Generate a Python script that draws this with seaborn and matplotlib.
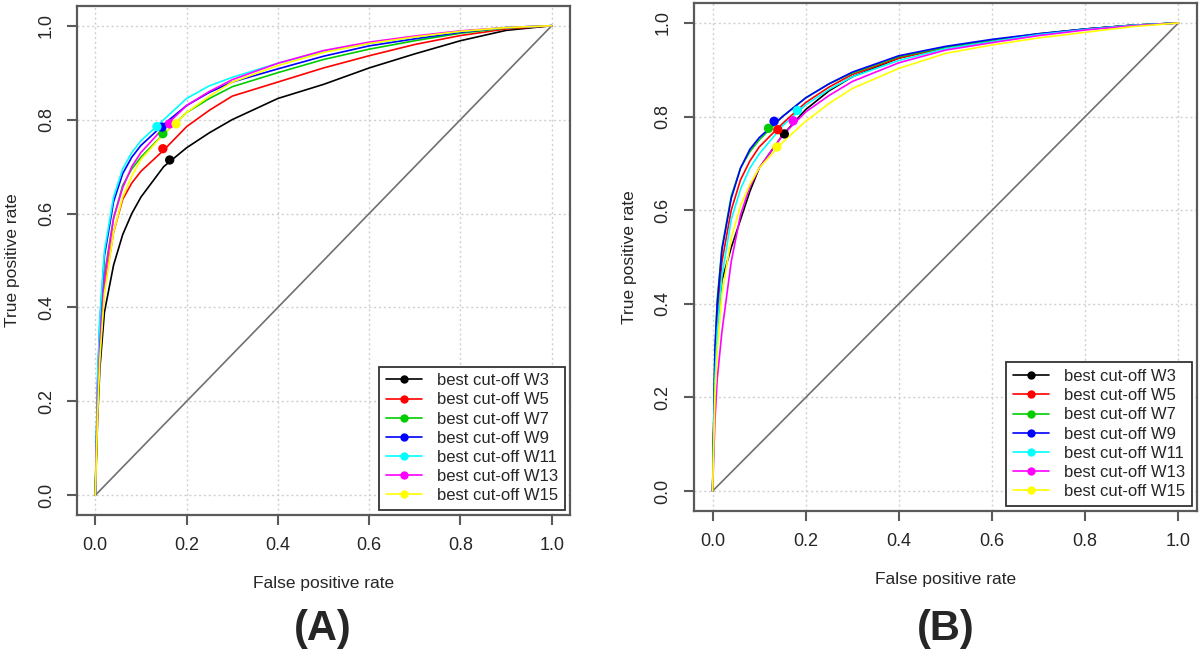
import matplotlib
matplotlib.use("Agg")
import matplotlib.pyplot as plt
from matplotlib.lines import Line2D
import seaborn as sns
import pandas as pd

# ---- data ----
windows = ["W3", "W5", "W7", "W9", "W11", "W13", "W15"]
colors = ["#000000", "#FF0000", "#00CC00", "#0000FF", "#00FFFF", "#FF00FF", "#FFFF00"]

fpr_grid = [0, 0.005, 0.01, 0.02, 0.04, 0.06, 0.08, 0.1, 0.15, 0.2, 0.25,
            0.3, 0.4, 0.5, 0.6, 0.7, 0.8, 0.9, 1.0]

# panel (A)
tpr_a_w3 = [0, 0.16, 0.27, 0.39, 0.49, 0.555, 0.60, 0.635, 0.70, 0.74, 0.772, 0.80, 0.845, 0.875, 0.91, 0.94, 0.968, 0.99, 1.0]
tpr_a_w5 = [0, 0.20, 0.32, 0.44, 0.56, 0.63, 0.665, 0.69, 0.735, 0.785, 0.82, 0.85, 0.88, 0.91, 0.936, 0.96, 0.979, 0.993, 1.0]
tpr_a_w7 = [0, 0.22, 0.34, 0.47, 0.59, 0.66, 0.695, 0.72, 0.77, 0.815, 0.845, 0.87, 0.90, 0.928, 0.95, 0.968, 0.984, 0.995, 1.0]
tpr_a_w9 = [0, 0.24, 0.37, 0.51, 0.625, 0.685, 0.72, 0.745, 0.79, 0.83, 0.858, 0.88, 0.908, 0.935, 0.957, 0.972, 0.986, 0.996, 1.0]
tpr_a_w11 = [0, 0.25, 0.38, 0.52, 0.635, 0.695, 0.73, 0.755, 0.80, 0.845, 0.872, 0.89, 0.92, 0.945, 0.962, 0.976, 0.988, 0.996, 1.0]
tpr_a_w13 = [0, 0.20, 0.32, 0.46, 0.59, 0.655, 0.70, 0.73, 0.783, 0.83, 0.86, 0.885, 0.92, 0.947, 0.965, 0.978, 0.989, 0.996, 1.0]
tpr_a_w15 = [0, 0.17, 0.29, 0.43, 0.56, 0.635, 0.68, 0.715, 0.77, 0.815, 0.85, 0.88, 0.915, 0.943, 0.962, 0.976, 0.988, 0.996, 1.0]
best_a_fpr = [0.163, 0.148, 0.148, 0.146, 0.135, 0.163, 0.177]
best_a_tpr = [0.714, 0.738, 0.770, 0.784, 0.785, 0.791, 0.791]

# panel (B)
tpr_b_w3 = [0, 0.25, 0.35, 0.45, 0.52, 0.58, 0.64, 0.69, 0.76, 0.815, 0.855, 0.885, 0.925, 0.948, 0.963, 0.976, 0.987, 0.995, 1.0]
tpr_b_w5 = [0, 0.28, 0.38, 0.49, 0.60, 0.665, 0.705, 0.735, 0.785, 0.83, 0.863, 0.89, 0.925, 0.947, 0.962, 0.976, 0.987, 0.995, 1.0]
tpr_b_w7 = [0, 0.30, 0.41, 0.52, 0.63, 0.69, 0.725, 0.75, 0.80, 0.84, 0.87, 0.893, 0.928, 0.948, 0.963, 0.977, 0.987, 0.995, 1.0]
tpr_b_w9 = [0, 0.30, 0.40, 0.515, 0.625, 0.69, 0.73, 0.755, 0.80, 0.84, 0.87, 0.895, 0.93, 0.95, 0.965, 0.977, 0.987, 0.995, 1.0]
tpr_b_w11 = [0, 0.24, 0.34, 0.46, 0.58, 0.645, 0.69, 0.72, 0.78, 0.825, 0.858, 0.885, 0.92, 0.945, 0.96, 0.975, 0.986, 0.995, 1.0]
tpr_b_w13 = [0, 0.15, 0.24, 0.34, 0.49, 0.59, 0.65, 0.69, 0.76, 0.81, 0.845, 0.875, 0.915, 0.942, 0.958, 0.973, 0.985, 0.994, 1.0]
tpr_b_w15 = [0, 0.20, 0.30, 0.42, 0.54, 0.61, 0.655, 0.69, 0.745, 0.79, 0.828, 0.86, 0.903, 0.935, 0.953, 0.968, 0.98, 0.992, 1.0]
best_b_fpr = [0.154, 0.140, 0.120, 0.132, 0.182, 0.173, 0.138]
best_b_tpr = [0.763, 0.772, 0.775, 0.790, 0.813, 0.791, 0.735]

ticks = [0.0, 0.2, 0.4, 0.6, 0.8, 1.0]
tick_labels = ["0.0", "0.2", "0.4", "0.6", "0.8", "1.0"]

sns.set_theme(style="white")
plt.rcParams["font.family"] = ["Liberation Sans", "DejaVu Sans"]

AXIS_GREY = "#5a5a5a"


def long_frame(curves):
    rows = []
    for w, tpr in zip(windows, curves):
        for f, t in zip(fpr_grid, tpr):
            rows.append({"window": w, "fpr": f, "tpr": t})
    return pd.DataFrame(rows)


def draw_panel(ax, curves, best_fpr, best_tpr):
    palette = dict(zip(windows, colors))
    # dotted R-style grid
    for v in ticks:
        ax.axvline(v, color="#d0d0d0", lw=1, ls=(0, (1.5, 2)), zorder=0)
        ax.axhline(v, color="#d0d0d0", lw=1, ls=(0, (1.5, 2)), zorder=0)
    ax.plot([0, 1], [0, 1], color="#707070", lw=1.2, zorder=1)

    df = long_frame(curves)
    sns.lineplot(data=df, x="fpr", y="tpr", hue="window", palette=palette,
                 estimator=None, sort=False, lw=1.2, legend=False, ax=ax, zorder=2)
    best = pd.DataFrame({"window": windows, "fpr": best_fpr, "tpr": best_tpr})
    sns.scatterplot(data=best, x="fpr", y="tpr", hue="window", palette=palette,
                    s=45, edgecolor="none", legend=False, ax=ax, zorder=3)

    ax.set_xlim(-0.04, 1.04)
    ax.set_ylim(-0.042, 1.042)
    ax.set_xticks(ticks)
    ax.set_yticks(ticks)
    ax.set_xticklabels(tick_labels)
    ax.set_yticklabels(tick_labels, rotation=90, va="center")
    ax.tick_params(axis="both", direction="out", length=7, width=1.5,
                   color=AXIS_GREY, labelsize=13, pad=9,
                   bottom=True, left=True)
    for sp in ax.spines.values():
        sp.set_color(AXIS_GREY)
        sp.set_linewidth(1.6)
    ax.set_xlabel("False positive rate", fontsize=12.5, labelpad=16)
    ax.set_ylabel("True positive rate", fontsize=12.5, labelpad=13)

    handles = [Line2D([], [], color=c, lw=1.2, marker="o", markersize=5)
               for c in colors]
    labels = ["best cut-off " + w for w in windows]
    leg = ax.legend(handles, labels, loc="lower right", fontsize=12,
                    frameon=True, fancybox=False, framealpha=1,
                    edgecolor="#333333", borderaxespad=0.3,
                    labelspacing=0.25, handlelength=2.2, handletextpad=0.9,
                    borderpad=0.4)
    leg.get_frame().set_linewidth(1.3)


fig = plt.figure(figsize=(12, 6.49), dpi=100)
ax_a = fig.add_axes([0.0642, 0.2065, 0.4108, 0.7843])
ax_b = fig.add_axes([0.5783, 0.2131, 0.4192, 0.7818])

draw_panel(ax_a, [tpr_a_w3, tpr_a_w5, tpr_a_w7, tpr_a_w9, tpr_a_w11, tpr_a_w13, tpr_a_w15],
           best_a_fpr, best_a_tpr)
draw_panel(ax_b, [tpr_b_w3, tpr_b_w5, tpr_b_w7, tpr_b_w9, tpr_b_w11, tpr_b_w13, tpr_b_w15],
           best_b_fpr, best_b_tpr)

fig.text(0.269, 0.031, "(A)", fontsize=30, fontweight="bold", ha="center", va="center")
fig.text(0.788, 0.031, "(B)", fontsize=30, fontweight="bold", ha="center", va="center")

fig.savefig("out.png", dpi=100)
